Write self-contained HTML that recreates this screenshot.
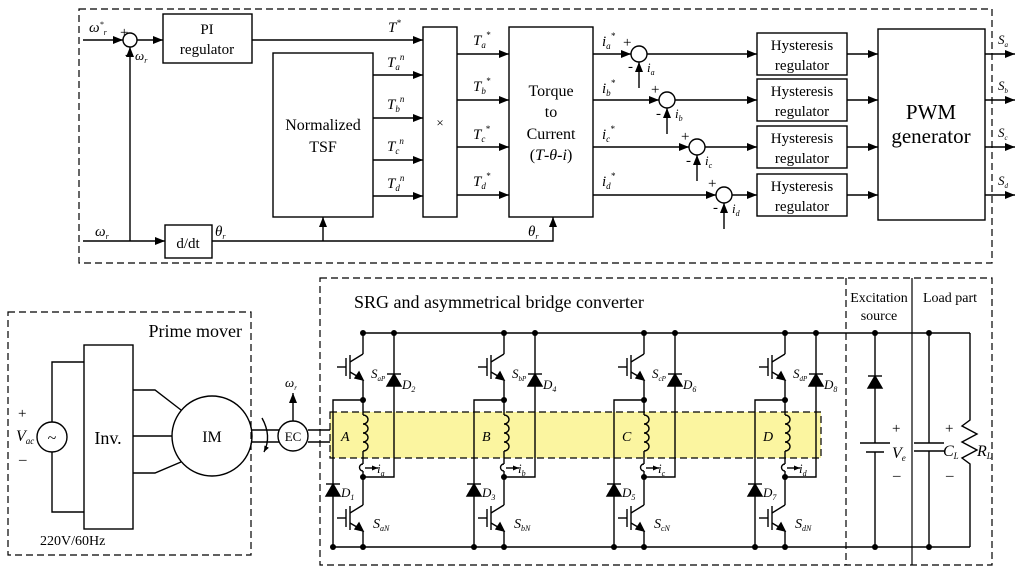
<!DOCTYPE html>
<html><head><meta charset="utf-8"><style>
html,body{margin:0;padding:0;background:#fff;}
svg{display:block;font-family:"Liberation Serif",serif;}
</style></head><body>
<svg width="1024" height="575" viewBox="0 0 1024 575" xmlns="http://www.w3.org/2000/svg">
<defs>
<marker id="ar" markerWidth="10" markerHeight="8" refX="10" refY="4" orient="auto" markerUnits="userSpaceOnUse"><path d="M0,0 L10,4 L0,8 z" fill="#000"/></marker>
<marker id="as" markerWidth="6" markerHeight="5" refX="6" refY="2.5" orient="auto" markerUnits="userSpaceOnUse"><path d="M0,0 L6,2.5 L0,5 z" fill="#000"/></marker>
<g id="igbt">
<line x1="-26" y1="0" x2="-17" y2="0"/>
<line x1="-17" y1="-9" x2="-17" y2="9"/>
<line x1="-13" y1="-12" x2="-13" y2="12"/>
<line x1="-13" y1="-5" x2="0" y2="-13"/>
<line x1="-13" y1="5" x2="-1" y2="12"/>
<path d="M0,13 L-8,11 L-4,5 z" fill="#000"/>
</g>
<g id="diode">
<path d="M-7,6 L7,6 L0,-6 z" fill="#000"/>
<line x1="-7" y1="-6" x2="7" y2="-6"/>
</g>
<g id="leg" stroke="#000" stroke-width="1.4" fill="none">
<line x1="0" y1="333" x2="0" y2="354"/>
<g transform="translate(0,367)"><use href="#igbt"/></g>
<line x1="0" y1="380" x2="0" y2="415"/>
<path d="M0,415 a5,4.5 0 0 1 0,9 a5,4.5 0 0 1 0,9 a5,4.5 0 0 1 0,9 a5,4.5 0 0 1 0,9"/>
<line x1="0" y1="451" x2="0" y2="464"/>
<path d="M0,464 a3,3 0 0 0 0,7"/>
<line x1="0" y1="471" x2="0" y2="505"/>
<g transform="translate(0,518)"><use href="#igbt"/></g>
<line x1="0" y1="531" x2="0" y2="547"/>
<polyline points="0,400 -30,400 -30,547"/>
<polyline points="0,477 31,477 31,333"/>
<line x1="2" y1="468" x2="15" y2="468" marker-end="url(#as)"/>
<g transform="translate(31,380)" fill="#000"><use href="#diode"/></g>
<g transform="translate(-30,490)" fill="#000"><use href="#diode"/></g>
<g fill="#000" stroke="none">
<circle cx="0" cy="333" r="3"/><circle cx="31" cy="333" r="3"/>
<circle cx="0" cy="400" r="3"/><circle cx="0" cy="477" r="3"/>
<circle cx="0" cy="547" r="3"/><circle cx="-30" cy="547" r="3"/>
</g>
</g>
</defs>
<g stroke="#000" stroke-width="1.4" fill="none">
<rect x="79" y="9" width="913" height="254" stroke-dasharray="7,4" stroke-width="1.2"/>
<line x1="83" y1="40" x2="123" y2="40" marker-end="url(#ar)"/>
<circle cx="130" cy="40" r="7"/>
<line x1="137" y1="40" x2="163" y2="40" marker-end="url(#ar)"/>
<rect x="163" y="14" width="89" height="49"/>
<line x1="130" y1="241" x2="130" y2="47" marker-end="url(#ar)"/>
<line x1="83" y1="241" x2="165" y2="241" marker-end="url(#ar)"/>
<rect x="165" y="225" width="47" height="33"/>
<polyline points="212,241 553,241 553,217" marker-end="url(#ar)"/>
<line x1="323" y1="241" x2="323" y2="217" marker-end="url(#ar)"/>
<line x1="252" y1="40" x2="423" y2="40" marker-end="url(#ar)"/>
<rect x="273" y="53" width="100" height="164"/>
<line x1="373" y1="75" x2="423" y2="75" marker-end="url(#ar)"/>
<line x1="373" y1="118" x2="423" y2="118" marker-end="url(#ar)"/>
<line x1="373" y1="160" x2="423" y2="160" marker-end="url(#ar)"/>
<line x1="373" y1="196" x2="423" y2="196" marker-end="url(#ar)"/>
<rect x="423" y="27" width="34" height="190"/>
<line x1="457" y1="54" x2="509" y2="54" marker-end="url(#ar)"/>
<line x1="457" y1="100" x2="509" y2="100" marker-end="url(#ar)"/>
<line x1="457" y1="147" x2="509" y2="147" marker-end="url(#ar)"/>
<line x1="457" y1="195" x2="509" y2="195" marker-end="url(#ar)"/>
<rect x="509" y="27" width="84" height="190"/>
<line x1="593" y1="54" x2="631" y2="54" marker-end="url(#ar)"/>
<circle cx="639" cy="54" r="8"/>
<line x1="639" y1="88" x2="639" y2="62" marker-end="url(#ar)"/>
<line x1="647" y1="54" x2="757" y2="54" marker-end="url(#ar)"/>
<line x1="593" y1="100" x2="659" y2="100" marker-end="url(#ar)"/>
<circle cx="667" cy="100" r="8"/>
<line x1="667" y1="134" x2="667" y2="108" marker-end="url(#ar)"/>
<line x1="675" y1="100" x2="757" y2="100" marker-end="url(#ar)"/>
<line x1="593" y1="147" x2="689" y2="147" marker-end="url(#ar)"/>
<circle cx="697" cy="147" r="8"/>
<line x1="697" y1="181" x2="697" y2="155" marker-end="url(#ar)"/>
<line x1="705" y1="147" x2="757" y2="147" marker-end="url(#ar)"/>
<line x1="593" y1="195" x2="716" y2="195" marker-end="url(#ar)"/>
<circle cx="724" cy="195" r="8"/>
<line x1="724" y1="229" x2="724" y2="203" marker-end="url(#ar)"/>
<line x1="732" y1="195" x2="757" y2="195" marker-end="url(#ar)"/>
<rect x="757" y="33" width="90" height="42"/>
<rect x="757" y="79" width="90" height="42"/>
<rect x="757" y="126" width="90" height="42"/>
<rect x="757" y="174" width="90" height="42"/>
<line x1="847" y1="54" x2="878" y2="54" marker-end="url(#ar)"/>
<line x1="847" y1="100" x2="878" y2="100" marker-end="url(#ar)"/>
<line x1="847" y1="147" x2="878" y2="147" marker-end="url(#ar)"/>
<line x1="847" y1="195" x2="878" y2="195" marker-end="url(#ar)"/>
<rect x="878" y="29" width="107" height="191"/>
<line x1="985" y1="54" x2="1015" y2="54" marker-end="url(#ar)"/>
<line x1="985" y1="100" x2="1015" y2="100" marker-end="url(#ar)"/>
<line x1="985" y1="147" x2="1015" y2="147" marker-end="url(#ar)"/>
<line x1="985" y1="195" x2="1015" y2="195" marker-end="url(#ar)"/>

<rect x="8" y="312" width="243" height="243" stroke-dasharray="7,4" stroke-width="1.2"/>
<circle cx="52" cy="437" r="15"/>
<polyline points="84,362 52,362 52,422"/>
<polyline points="84,512 52,512 52,452"/>
<rect x="84" y="345" width="49" height="184"/>
<polyline points="133,390 155,390 181,410"/>
<line x1="133" y1="436" x2="172" y2="436"/>
<polyline points="133,473 155,473 181,462"/>
<circle cx="212" cy="436" r="40"/>
<line x1="252" y1="430" x2="279" y2="430"/><line x1="252" y1="442" x2="279" y2="442"/>
<line x1="308" y1="430" x2="330" y2="430"/><line x1="308" y1="442" x2="330" y2="442"/>
<circle cx="293" cy="436" r="15"/>
<line x1="293" y1="421" x2="293" y2="393" marker-end="url(#ar)"/>
<path d="M262,418 Q272,436 264,452" marker-end="url(#as)"/>

<rect x="320" y="278" width="672" height="287" stroke-dasharray="7,4" stroke-width="1.2"/>
<line x1="846" y1="278" x2="846" y2="565" stroke-dasharray="7,4" stroke-width="1.2"/>
<line x1="912" y1="278" x2="912" y2="565" stroke-width="1.2"/>
<rect x="330" y="412" width="491" height="46" fill="#fbf5a0" stroke-dasharray="7,4" stroke-width="1.2"/>
<line x1="363" y1="333" x2="970" y2="333"/>
<line x1="333" y1="547" x2="970" y2="547"/>
<line x1="875" y1="333" x2="875" y2="443"/><line x1="875" y1="452" x2="875" y2="547"/>
<line x1="860" y1="443" x2="890" y2="443"/><line x1="866" y1="452" x2="884" y2="452"/>
<line x1="929" y1="333" x2="929" y2="443"/><line x1="929" y1="451" x2="929" y2="547"/>
<line x1="914" y1="443" x2="944" y2="443"/><line x1="914" y1="451" x2="944" y2="451"/>
<polyline points="970,333 970,420 962,426 977,434 962,442 977,450 962,458 970,464 970,547"/>
</g>
<g fill="#000">
<g transform="translate(875,382)" stroke="#000" stroke-width="1.4"><use href="#diode"/></g>
<circle cx="875" cy="333" r="3"/><circle cx="875" cy="547" r="3"/>
<circle cx="929" cy="333" r="3"/><circle cx="929" cy="547" r="3"/>
</g>

<g transform="translate(363,0)"><use href="#leg"/></g>
<g transform="translate(504,0)"><use href="#leg"/></g>
<g transform="translate(644,0)"><use href="#leg"/></g>
<g transform="translate(785,0)"><use href="#leg"/></g>

<g font-size="15" fill="#000">
<text x="207" y="34" text-anchor="middle">PI</text>
<text x="207" y="54" text-anchor="middle">regulator</text>
<text x="188" y="248" text-anchor="middle">d/dt</text>
<text x="323" y="130" text-anchor="middle" font-size="16">Normalized</text>
<text x="323" y="152" text-anchor="middle" font-size="16">TSF</text>
<text x="440" y="127" text-anchor="middle" font-size="13">×</text>
<text x="551" y="96" text-anchor="middle" font-size="16">Torque</text>
<text x="551" y="117" text-anchor="middle" font-size="16">to</text>
<text x="551" y="139" text-anchor="middle" font-size="16">Current</text>
<text x="551" y="160" text-anchor="middle" font-size="16">(<tspan font-style="italic">T</tspan>-<tspan font-style="italic">θ</tspan>-<tspan font-style="italic">i</tspan>)</text>
<g text-anchor="middle" font-size="15">
<text x="802" y="50">Hysteresis</text><text x="802" y="70">regulator</text>
<text x="802" y="96">Hysteresis</text><text x="802" y="116">regulator</text>
<text x="802" y="143">Hysteresis</text><text x="802" y="163">regulator</text>
<text x="802" y="191">Hysteresis</text><text x="802" y="211">regulator</text>
</g>
<text x="931" y="119" text-anchor="middle" font-size="21">PWM</text>
<text x="931" y="143" text-anchor="middle" font-size="21">generator</text>
<g font-style="italic">
<text x="89" y="32">ω<tspan font-size="8" dy="-5">*</tspan><tspan font-size="8" dy="8">r</tspan></text>
<text x="135" y="60" font-size="13">ω<tspan font-size="8" dy="3">r</tspan></text>
<text x="95" y="236">ω<tspan font-size="8" dy="3">r</tspan></text>
<text x="215" y="236">θ<tspan font-size="8" dy="3">r</tspan></text>
<text x="528" y="236">θ<tspan font-size="8" dy="3">r</tspan></text>
<text x="388" y="32">T<tspan font-size="9" dy="-6">*</tspan></text>
<text x="387" y="67">T<tspan font-size="9" dy="3">a</tspan><tspan font-size="9" dy="-10">n</tspan></text>
<text x="387" y="109">T<tspan font-size="9" dy="3">b</tspan><tspan font-size="9" dy="-10">n</tspan></text>
<text x="387" y="151">T<tspan font-size="9" dy="3">c</tspan><tspan font-size="9" dy="-10">n</tspan></text>
<text x="387" y="188">T<tspan font-size="9" dy="3">d</tspan><tspan font-size="9" dy="-10">n</tspan></text>
<text x="473" y="45">T<tspan font-size="9" dy="3">a</tspan><tspan font-size="9" dy="-10">*</tspan></text>
<text x="473" y="91">T<tspan font-size="9" dy="3">b</tspan><tspan font-size="9" dy="-10">*</tspan></text>
<text x="473" y="139">T<tspan font-size="9" dy="3">c</tspan><tspan font-size="9" dy="-10">*</tspan></text>
<text x="473" y="186">T<tspan font-size="9" dy="3">d</tspan><tspan font-size="9" dy="-10">*</tspan></text>
<text x="602" y="46">i<tspan font-size="9" dy="3">a</tspan><tspan font-size="9" dy="-10">*</tspan></text>
<text x="602" y="93">i<tspan font-size="9" dy="3">b</tspan><tspan font-size="9" dy="-10">*</tspan></text>
<text x="602" y="139">i<tspan font-size="9" dy="3">c</tspan><tspan font-size="9" dy="-10">*</tspan></text>
<text x="602" y="186">i<tspan font-size="9" dy="3">d</tspan><tspan font-size="9" dy="-10">*</tspan></text>
<text x="647" y="72" font-size="13">i<tspan font-size="8" dy="3">a</tspan></text>
<text x="675" y="118" font-size="13">i<tspan font-size="8" dy="3">b</tspan></text>
<text x="705" y="165" font-size="13">i<tspan font-size="8" dy="3">c</tspan></text>
<text x="732" y="213" font-size="13">i<tspan font-size="8" dy="3">d</tspan></text>
<text x="998" y="44" font-size="13">S<tspan font-size="7" dy="3">a</tspan></text>
<text x="998" y="90" font-size="13">S<tspan font-size="7" dy="3">b</tspan></text>
<text x="998" y="137" font-size="13">S<tspan font-size="7" dy="3">c</tspan></text>
<text x="998" y="185" font-size="13">S<tspan font-size="7" dy="3">d</tspan></text>
</g>
<g font-size="15">
<text x="120" y="37">+</text><text x="125" y="59">-</text>
<text x="623" y="47">+</text><text x="628" y="71">-</text>
<text x="651" y="94">+</text><text x="656" y="118">-</text>
<text x="681" y="141">+</text><text x="686" y="165">-</text>
<text x="708" y="188">+</text><text x="713" y="212">-</text>
</g>

<text x="242" y="337" text-anchor="end" font-size="18">Prime mover</text>
<text x="108" y="444" text-anchor="middle" font-size="18">Inv.</text>
<text x="212" y="442" text-anchor="middle" font-size="16">IM</text>
<text x="293" y="441" text-anchor="middle" font-size="13">EC</text>
<text x="52" y="443" text-anchor="middle" font-size="16">~</text>
<text x="18" y="418" font-size="15">+</text>
<text x="16" y="441" font-style="italic" font-size="16">V<tspan font-size="9" dy="3">ac</tspan></text>
<text x="19" y="464" font-size="15">–</text>
<text x="40" y="545" font-size="14">220V/60Hz</text>
<text x="285" y="387" font-style="italic" font-size="13">ω<tspan font-size="7" dy="3">r</tspan></text>

<text x="354" y="308" font-size="18">SRG and asymmetrical bridge converter</text>
<text x="879" y="302" text-anchor="middle" font-size="14">Excitation</text>
<text x="879" y="320" text-anchor="middle" font-size="14">source</text>
<text x="950" y="302" text-anchor="middle" font-size="14">Load part</text>

<g font-style="italic" font-size="13">
<text x="371" y="378">S<tspan font-size="7" dy="3">aP</tspan></text>
<text x="402" y="389">D<tspan font-size="8" dy="3">2</tspan></text>
<text x="341" y="441" font-size="14">A</text>
<text x="377" y="473">i<tspan font-size="8" dy="3">a</tspan></text>
<text x="341" y="497">D<tspan font-size="8" dy="3">1</tspan></text>
<text x="373" y="528" font-size="14">S<tspan font-size="8" dy="3">aN</tspan></text>

<text x="512" y="378">S<tspan font-size="7" dy="3">bP</tspan></text>
<text x="543" y="389">D<tspan font-size="8" dy="3">4</tspan></text>
<text x="482" y="441" font-size="14">B</text>
<text x="518" y="473">i<tspan font-size="8" dy="3">b</tspan></text>
<text x="482" y="497">D<tspan font-size="8" dy="3">3</tspan></text>
<text x="514" y="528" font-size="14">S<tspan font-size="8" dy="3">bN</tspan></text>

<text x="652" y="378">S<tspan font-size="7" dy="3">cP</tspan></text>
<text x="683" y="389">D<tspan font-size="8" dy="3">6</tspan></text>
<text x="622" y="441" font-size="14">C</text>
<text x="658" y="473">i<tspan font-size="8" dy="3">c</tspan></text>
<text x="622" y="497">D<tspan font-size="8" dy="3">5</tspan></text>
<text x="654" y="528" font-size="14">S<tspan font-size="8" dy="3">cN</tspan></text>

<text x="793" y="378">S<tspan font-size="7" dy="3">dP</tspan></text>
<text x="824" y="389">D<tspan font-size="8" dy="3">8</tspan></text>
<text x="763" y="441" font-size="14">D</text>
<text x="799" y="473">i<tspan font-size="8" dy="3">d</tspan></text>
<text x="763" y="497">D<tspan font-size="8" dy="3">7</tspan></text>
<text x="795" y="528" font-size="14">S<tspan font-size="8" dy="3">dN</tspan></text>

<text x="892" y="458" font-size="16">V<tspan font-size="9" dy="3">e</tspan></text>
<text x="943" y="456" font-size="16">C<tspan font-size="9" dy="3">L</tspan></text>
<text x="977" y="456" font-size="16">R<tspan font-size="9" dy="3">L</tspan></text>
</g>
<g font-size="15">
<text x="892" y="433">+</text><text x="893" y="480">–</text>
<text x="945" y="433">+</text><text x="946" y="480">–</text>
</g>
</g>
</svg>
</body></html>
